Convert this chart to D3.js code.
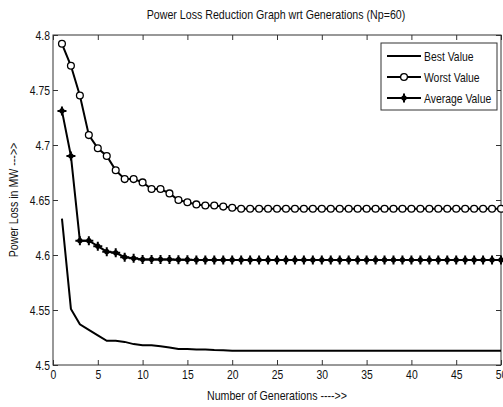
<!DOCTYPE html>
<html>
<head>
<meta charset="utf-8">
<script src="https://cdn.jsdelivr.net/npm/d3@7"></script>
<style>
  body { margin: 0; background: #fff; }
  text { font-family: "Liberation Sans", Arial, sans-serif; fill: #111; }
</style>
</head>
<body>
<div id="chart"></div>
<script>
// Data
var generations = d3.range(1, 51);
var bestValue = [4.633, 4.551, 4.537, 4.532, 4.527, 4.522, 4.522, 4.521, 4.519, 4.518,
  4.518, 4.517, 4.516, 4.5145, 4.5145, 4.514, 4.514, 4.5136, 4.5135, 4.513,
  4.513, 4.513, 4.513, 4.513, 4.513, 4.513, 4.513, 4.513, 4.513, 4.513,
  4.513, 4.513, 4.513, 4.513, 4.513, 4.513, 4.513, 4.513, 4.513, 4.513,
  4.513, 4.513, 4.513, 4.513, 4.513, 4.513, 4.513, 4.513, 4.513, 4.513];
var worstValue = [4.792, 4.772, 4.745, 4.709, 4.697, 4.690, 4.677, 4.669, 4.669, 4.666,
  4.660, 4.660, 4.656, 4.650, 4.648, 4.646, 4.645, 4.645, 4.644, 4.643,
  4.642, 4.642, 4.642, 4.642, 4.642, 4.642, 4.642, 4.642, 4.642, 4.642,
  4.642, 4.642, 4.642, 4.642, 4.642, 4.642, 4.642, 4.642, 4.642, 4.642,
  4.642, 4.642, 4.642, 4.642, 4.642, 4.642, 4.642, 4.642, 4.642, 4.642];
var averageValue = [4.731, 4.690, 4.613, 4.613, 4.608, 4.603, 4.602, 4.598, 4.597, 4.596,
  4.596, 4.596, 4.596, 4.5957, 4.5957, 4.5955, 4.5955, 4.5955, 4.5955, 4.5955,
  4.5955, 4.5955, 4.5955, 4.5955, 4.5955, 4.5955, 4.5955, 4.5955, 4.5955, 4.5955,
  4.5955, 4.5955, 4.5955, 4.5955, 4.5955, 4.5955, 4.5955, 4.5955, 4.5955, 4.5955,
  4.5955, 4.5955, 4.5955, 4.5955, 4.5955, 4.5955, 4.5955, 4.5955, 4.5955, 4.5955];
var xTicks = d3.range(0, 51, 5);
var yTicks = [4.5, 4.55, 4.6, 4.65, 4.7, 4.75, 4.8];
var seriesNames = ["Best Value", "Worst Value", "Average Value"];

var width = 503, height = 407;
var margin = {top: 35, right: 2, bottom: 42, left: 53};
var squeeze = 0.8; // narrow look of the original font

var svg = d3.select("#chart").append("svg")
  .attr("width", width)
  .attr("height", height);

var x = d3.scaleLinear().domain([0, 50]).range([margin.left, width - margin.right]);
var y = d3.scaleLinear().domain([4.5, 4.8]).range([height - margin.bottom, margin.top]);

var axisColor = "#333";

// axes box
svg.append("rect")
  .attr("x", x(0)).attr("y", y(4.8))
  .attr("width", x(50) - x(0)).attr("height", y(4.5) - y(4.8))
  .attr("fill", "none").attr("stroke", axisColor).attr("stroke-width", 1);

// ticks (inward, on all four sides)
var gx = svg.append("g").attr("transform", "translate(0," + y(4.5) + ")")
  .call(d3.axisBottom(x).tickValues(xTicks).tickSize(-5).tickPadding(5).tickFormat(d3.format("d")));
var gxt = svg.append("g").attr("transform", "translate(0," + y(4.8) + ")")
  .call(d3.axisTop(x).tickValues(xTicks).tickSize(-5).tickFormat(""));
var gy = svg.append("g").attr("transform", "translate(" + x(0) + ",0)")
  .call(d3.axisLeft(y).tickValues(yTicks).tickSize(-5).tickPadding(3).tickFormat(function(d) { return String(+d.toFixed(2)); }));
var gyr = svg.append("g").attr("transform", "translate(" + x(50) + ",0)")
  .call(d3.axisRight(y).tickValues(yTicks).tickSize(-5).tickFormat(""));

[gx, gxt, gy, gyr].forEach(function(g) {
  g.select(".domain").remove();
  g.selectAll(".tick line").attr("stroke", axisColor);
  g.selectAll("text").style("font-size", "13px").attr("fill", "#111")
    .style("font-family", "'Liberation Sans', Arial, sans-serif");
});
gx.selectAll("text").attr("transform", "scale(" + squeeze + ",1)");
gy.selectAll("text")
  .attr("x", -3 / squeeze)
  .attr("transform", "scale(" + squeeze + ",1)");

// lines
var line = function(vals) {
  return d3.line()
    .x(function(d, i) { return x(generations[i]); })
    .y(function(d) { return y(d); })(vals);
};

svg.append("path").attr("d", line(bestValue))
  .attr("fill", "none").attr("stroke", "#000").attr("stroke-width", 2);
svg.append("path").attr("d", line(worstValue))
  .attr("fill", "none").attr("stroke", "#000").attr("stroke-width", 2);
svg.append("path").attr("d", line(averageValue))
  .attr("fill", "none").attr("stroke", "#000").attr("stroke-width", 2);

// star marker path (MATLAB '*')
function starPath(r) {
  var d = "";
  for (var k = 0; k < 4; k++) {
    var a = k * Math.PI / 4;
    var rr = (k % 2 == 0) ? r : r * 0.6;
    var dx = rr * Math.cos(a), dy = rr * Math.sin(a);
    d += "M" + (-dx) + "," + (-dy) + "L" + dx + "," + dy;
  }
  return d;
}

svg.append("g").selectAll("circle")
  .data(worstValue).enter().append("circle")
  .attr("cx", function(d, i) { return x(generations[i]); })
  .attr("cy", function(d) { return y(d); })
  .attr("r", 3.4)
  .attr("fill", "#fff").attr("stroke", "#000").attr("stroke-width", 1.3);

svg.append("g").selectAll("path")
  .data(averageValue).enter().append("path")
  .attr("d", starPath(4.5))
  .attr("transform", function(d, i) { return "translate(" + x(generations[i]) + "," + y(d) + ")"; })
  .attr("fill", "none").attr("stroke", "#000").attr("stroke-width", 2);

// title and labels
function label(px, py, rot, txt) {
  svg.append("g")
    .attr("transform", "translate(" + px + "," + py + ")" + (rot ? " rotate(" + rot + ")" : ""))
    .append("text")
    .attr("text-anchor", "middle")
    .attr("transform", "scale(" + squeeze + ",1)")
    .style("font-size", "13.3px")
    .text(txt);
}
label(276, 19, 0, "Power Loss Reduction Graph wrt Generations (Np=60)");
label(277, 400, 0, "Number of Generations ---->>");
label(18, 200, -90, "Power Loss in MW --->>");

// legend
var legend = svg.append("g").attr("transform", "translate(381,43)");
legend.append("rect")
  .attr("width", 116).attr("height", 67)
  .attr("fill", "#fff").attr("stroke", axisColor).attr("stroke-width", 1);

var legendY = [13, 34, 55];
seriesNames.forEach(function(name, i) {
  var g = legend.append("g").attr("transform", "translate(0," + legendY[i] + ")");
  g.append("line").attr("x1", 6).attr("x2", 40).attr("y1", 0).attr("y2", 0)
    .attr("stroke", "#000").attr("stroke-width", 2);
  if (i == 1) {
    g.append("circle").attr("cx", 23).attr("cy", 0).attr("r", 3.4)
      .attr("fill", "#fff").attr("stroke", "#000").attr("stroke-width", 1.3);
  }
  if (i == 2) {
    g.append("path").attr("d", starPath(4.5)).attr("transform", "translate(23,0)")
      .attr("fill", "none").attr("stroke", "#000").attr("stroke-width", 2);
  }
  g.append("text").attr("x", 43 / squeeze).attr("y", 4.5)
    .attr("transform", "scale(" + squeeze + ",1)")
    .style("font-size", "13px")
    .text(name);
});
</script>
</body>
</html>
